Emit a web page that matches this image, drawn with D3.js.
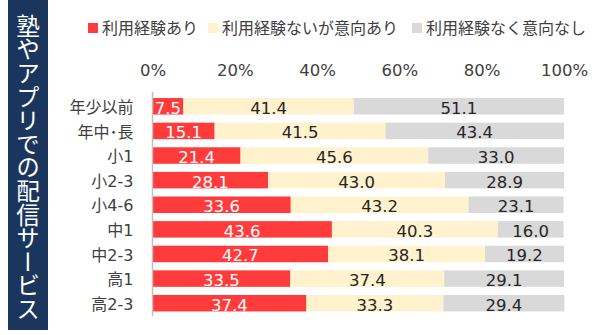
<!DOCTYPE html>
<html><head><meta charset="utf-8">
<script src="https://cdn.jsdelivr.net/npm/d3@7"></script>
<style>
html,body{margin:0;padding:0;background:#fff;}
svg{display:block;font-family:"Noto Sans CJK JP","Noto Sans",sans-serif;}
</style></head>
<body>
<svg id="chart" width="600" height="335"></svg>
<script>
const title = "塾やアプリでの配信サービス";
const categories = ["年少以前","年中･長","小1","小2-3","小4-6","中1","中2-3","高1","高2-3"];
const seriesNames = ["利用経験あり","利用経験ないが意向あり","利用経験なく意向なし"];
const used      = [7.5,15.1,21.4,28.1,33.6,43.6,42.7,33.5,37.4];
const intended  = [41.4,41.5,45.6,43.0,43.2,40.3,38.1,37.4,33.3];
const noIntent  = [51.1,43.4,33.0,28.9,23.1,16.0,19.2,29.1,29.4];
const tickValues = [0,20,40,60,80,100];
const colors = ["#FF3B3B","#FFF2CC","#D9D9D9"];
const labelColors = ["#ffffff","#262626","#262626"];
const numFont = "'DejaVu Sans','Noto Sans CJK JP',sans-serif";

const svg = d3.select("#chart");

// Title box
svg.append("rect").attr("x",8).attr("y",0).attr("width",40).attr("height",330).attr("fill","#1B365D");
svg.append("text").attr("x",28).attr("y",14)
  .attr("fill","#fff").attr("font-size",23.6)
  .style("writing-mode","vertical-rl")
  .style("text-orientation","upright")
  .text(title);

const x = d3.scaleLinear().domain([0,100]).range([152.5,564]);
const y = d3.scaleBand().domain(categories).range([94,315.5]).paddingInner(0.33).paddingOuter(0.165);

const rows = categories.map((c,i)=>({cat:c, vals:[used[i],intended[i],noIntent[i]]}));
const stack = d3.stack().keys([0,1,2]).value((d,k)=>d.vals[k]);
const series = stack(rows);

const g = svg.append("g");
series.forEach((s,k)=>{
  const sg = g.append("g");
  sg.selectAll("rect").data(s).enter().append("rect")
    .attr("x",d=>x(d[0])).attr("y",d=>y(d.data.cat))
    .attr("width",d=>x(d[1])-x(d[0])).attr("height",y.bandwidth())
    .attr("fill",colors[k]);
  sg.selectAll("text").data(s).enter().append("text")
    .attr("x",d=>(x(d[0])+x(d[1]))/2)
    .attr("y",d=>y(d.data.cat)+y.bandwidth()/2+7.5)
    .attr("text-anchor","middle").attr("font-size",16.5)
    .attr("font-family",numFont)
    .attr("fill",labelColors[k])
    .text(d=>d.data.vals[k].toFixed(1));
});

// Category axis
const yAxis = svg.append("g").attr("transform","translate(152.5,0)")
  .call(d3.axisLeft(y).tickSize(0).tickPadding(19));
yAxis.select(".domain").remove();
yAxis.selectAll("text").attr("font-size",16).attr("fill","#404040").attr("font-family",numFont).attr("dy","0.42em");
svg.append("line").attr("x1",152.5).attr("x2",152.5).attr("y1",92).attr("y2",316)
  .attr("stroke","#BFBFBF").attr("stroke-width",1.5);

// Value axis ticks (top)
const xAxis = svg.append("g").attr("transform","translate(0,76)")
  .call(d3.axisTop(x).tickValues(tickValues).tickFormat(d=>d+"%").tickSize(0).tickPadding(0));
xAxis.select(".domain").remove();
xAxis.selectAll("text").attr("font-size",16.5).attr("fill","#404040").attr("font-family",numFont).attr("dy",0);

// Legend
const legendX = [88,208,412];
seriesNames.forEach((n,k)=>{
  svg.append("rect").attr("x",legendX[k]).attr("y",23).attr("width",10).attr("height",10).attr("fill",colors[k]);
  svg.append("text").attr("x",legendX[k]+14).attr("y",34).attr("font-size",16).attr("fill","#404040").text(n);
});
</script>
</body></html>
